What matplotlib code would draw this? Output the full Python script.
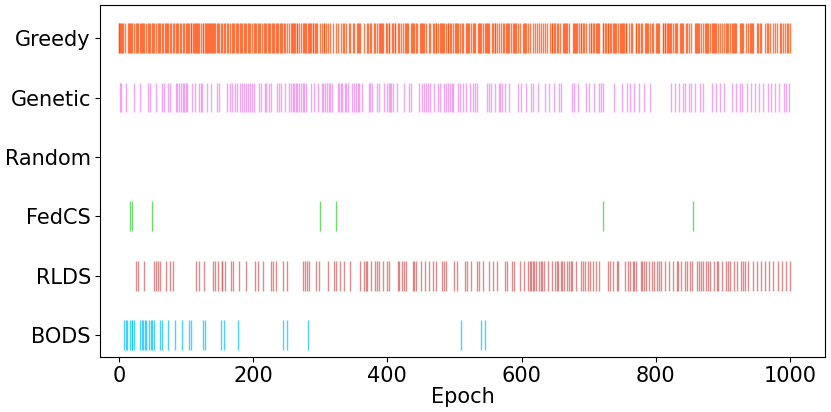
import matplotlib
matplotlib.use("Agg")
import matplotlib.pyplot as plt

labels = ["BODS", "RLDS", "FedCS", "Random", "Genetic", "Greedy"]
colors = ["deepskyblue", "indianred", "limegreen", "gray", "violet", "orangered"]

bods = [8, 10, 12, 16, 19, 20, 23, 32, 34, 36, 39, 41, 45, 48, 50, 53, 61, 64, 74, 83,
        94, 104, 108, 125, 129, 152, 156, 178, 245, 251, 282, 510, 540, 546]

rlds = [25, 28, 38, 53, 55, 59, 62, 71, 76, 80, 115, 119, 127, 140, 143, 148, 153, 154,
        158, 167, 170, 179, 190, 203, 207, 215, 226, 230, 234, 244, 250, 274, 278, 281,
        284, 294, 298, 311, 321, 323, 329, 336, 345, 359, 365, 368, 370, 375, 381, 384,
        387, 393, 399, 402, 416, 418, 422, 425, 428, 438, 440, 443, 450, 456, 462, 468,
        473, 482, 485, 488, 500, 504, 515, 518, 525, 533, 537, 543, 551, 558, 563, 575,
        579, 585, 588, 597, 603, 609, 612, 614, 617, 619, 622, 626, 629, 631, 634, 639,
        645, 650, 653, 655, 658, 660, 663, 668, 671, 673, 675, 681, 688, 691, 694, 699,
        702, 706, 711, 716, 729, 732, 736, 742, 744, 754, 759, 762, 766, 768, 770, 778,
        780, 783, 786, 790, 795, 798, 801, 804, 807, 813, 819, 826, 831, 833, 837, 843,
        847, 851, 854, 861, 864, 868, 870, 874, 877, 881, 886, 891, 893, 898, 904, 908,
        911, 917, 921, 927, 930, 933, 938, 945, 951, 957, 963, 969, 974, 982, 988, 994,
        1000]

fedcs = [17, 19, 50, 300, 323, 721, 855]

random_sel = []

genetic = [2, 4, 10, 23, 31, 44, 47, 56, 65, 68, 74, 77, 85, 87, 90, 92, 95, 97, 100,
           102, 109, 113, 119, 122, 124, 132, 138, 146, 149, 161, 165, 168, 173, 176,
           181, 184, 186, 189, 192, 195, 198, 201, 209, 212, 218, 220, 224, 227, 236,
           238, 241, 248, 254, 256, 259, 261, 264, 266, 269, 271, 274, 276, 279, 287,
           291, 297, 302, 304, 307, 310, 313, 315, 318, 326, 328, 331, 333, 337, 339,
           342, 348, 351, 353, 356, 358, 362, 372, 374, 377, 385, 388, 395, 400, 402,
           404, 406, 409, 414, 425, 432, 435, 447, 452, 455, 458, 461, 464, 470, 476,
           479, 485, 487, 490, 493, 496, 498, 506, 509, 513, 517, 523, 528, 531, 534,
           549, 552, 554, 561, 566, 568, 571, 576, 582, 594, 599, 606, 614, 617, 624,
           635, 641, 648, 656, 659, 675, 678, 684, 696, 701, 708, 716, 718, 721, 738,
           750, 757, 762, 768, 775, 782, 792, 822, 828, 834, 840, 843, 849, 852, 859,
           866, 870, 883, 890, 895, 901, 913, 919, 925, 929, 936, 942, 948, 954, 959,
           967, 972, 978, 984, 991, 994, 998]

greedy = [0, 1, 2, 4, 5, 7, 9, 13, 15, 16, 18, 20, 23, 25, 27, 29, 31, 33, 34, 36, 38,
          41, 43, 45, 47, 50, 51, 53, 55, 58, 60, 62, 64, 66, 69, 71, 72, 74, 77, 78,
          80, 82, 85, 87, 88, 91, 93, 95, 97, 100, 101, 103, 105, 107, 108, 110, 112,
          113, 115, 117, 118, 120, 123, 125, 126, 128, 130, 132, 133, 134, 136, 138,
          139, 140, 142, 144, 146, 148, 150, 152, 154, 156, 158, 161, 163, 166, 168,
          170, 171, 174, 176, 177, 180, 182, 183, 186, 188, 189, 192, 194, 195, 198,
          201, 203, 204, 207, 209, 210, 213, 216, 218, 219, 222, 224, 225, 228, 230,
          231, 234, 236, 237, 240, 242, 243, 246,
          248, 250, 253, 256, 258, 259, 261, 263, 265, 266, 268, 271, 274, 276, 277,
          279, 282, 283, 285, 287, 289, 290, 292, 294, 295, 299, 303, 305, 306, 308,
          311, 315, 319, 323, 327, 331, 334, 336, 339, 343, 345, 349, 351, 355, 357,
          358, 360, 365, 369, 371, 374, 376, 380, 382, 384, 387, 389, 391, 392, 394,
          398, 400, 402, 403, 407, 409, 411, 412, 416, 418, 420, 424, 426, 428, 429,
          431, 435, 437, 439, 440, 442, 444, 448, 450, 452, 453, 455, 458, 462, 464,
          468, 470, 472, 473, 475, 478, 480, 481, 483, 485, 488, 490, 491, 493, 495,
          498,
          501, 503, 504, 506, 508, 511, 513, 517, 519, 520, 522, 524, 527, 529, 531,
          535, 537, 538, 540, 542, 545, 547, 548, 550, 552, 556, 558, 560, 561, 563,
          567, 569, 572, 574, 577, 579, 580, 582, 584, 587, 589, 590, 592, 594, 597,
          602, 604, 605, 607, 609, 612, 617, 620, 623, 626, 629, 632, 635, 638, 643,
          645, 646, 648, 650, 653, 655, 657, 661, 663, 664, 666, 668, 671, 676, 678,
          679, 681, 683, 686, 688, 689, 691, 693, 696, 701, 703, 704, 706, 708, 711,
          713, 714, 716, 721, 722, 724, 726, 728, 729, 731, 733, 736, 738, 739, 741,
          743, 746, 748, 749, 751, 753,
          755, 756, 760, 763, 765, 770, 771, 773, 775, 778, 780, 784, 786, 787, 789,
          791, 794, 796, 800, 802, 803, 805, 810, 811, 813, 814, 816, 818, 820, 821,
          823, 825, 828, 830, 832, 836, 838, 839, 841, 845, 847, 849, 853, 858, 860,
          862, 863, 865, 867, 871, 873, 874, 876, 878, 880, 883, 885, 887, 888, 890,
          892, 896, 898, 901, 905, 906, 908, 910, 913, 915, 916, 918, 920, 925, 927,
          928, 930, 935, 937, 940, 942, 943, 945, 950, 952, 955, 957, 962, 965, 967,
          970, 975, 977, 980, 985, 987, 990, 992, 995, 997, 1000]

series = [bods, rlds, fedcs, random_sel, genetic, greedy]

fig = plt.figure(figsize=(8.31, 4.12), dpi=100)
ax = fig.add_axes([100 / 831, 1 - 357 / 412, 725 / 831, 352 / 412])

for i, (data, c) in enumerate(zip(series, colors)):
    if len(data):
        ax.eventplot(data, orientation="horizontal", lineoffsets=i,
                     linelengths=0.5, linewidths=1.0, colors=c, alpha=0.7)

ax.set_yticks(range(len(labels)))
ax.set_yticklabels(labels)
ax.set_xticks([0, 200, 400, 600, 800, 1000])
ax.set_xlim(-28, 1052)
ax.set_ylim(-0.37, 5.56)
ax.tick_params(labelsize=15, pad=3)
ax.set_xlabel("Epoch", fontsize=15, labelpad=1)

fig.savefig("out.png", dpi=100)
